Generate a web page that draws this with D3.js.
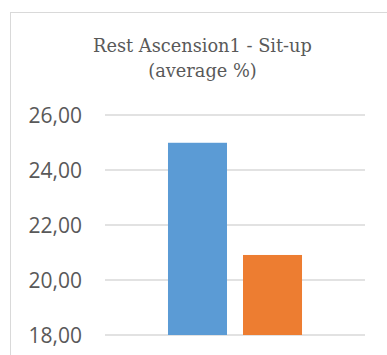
<!DOCTYPE html>
<html>
<head>
<meta charset="utf-8">
<script src="https://cdn.jsdelivr.net/npm/d3@7"></script>
<style>
  html, body { margin: 0; padding: 0; background: #fff; }
  svg { display: block; }
</style>
</head>
<body>
<svg id="chart" width="387" height="355"></svg>
<script>
const titleLines = ["Rest Ascension1 - Sit-up", "(average %)"];
const categories = ["Sit-up"];
const seriesNames = ["Series 1", "Series 2"];
const seriesValues = [24.99, 20.91];
const seriesColors = ["#5B9BD5", "#ED7D31"];
const yTicks = [18, 20, 22, 24, 26];

const svg = d3.select("#chart");

// chart border (extends past the window on the right and bottom)
svg.append("rect")
  .attr("x", 10.5).attr("y", 12.5)
  .attr("width", 500).attr("height", 500)
  .attr("fill", "#fff")
  .attr("stroke", "#D9D9D9").attr("stroke-width", 1);

const plot = { left: 105, right: 365, top: 115, bottom: 335 };

const y = d3.scaleLinear().domain([18, 26]).range([plot.bottom, plot.top]);
const x0 = d3.scaleBand().domain(categories).range([plot.left, plot.right])
  .paddingInner(0).paddingOuter(0.47);
const x1 = d3.scaleBand().domain(seriesNames).range([0, x0.bandwidth()])
  .paddingInner(0.2133).paddingOuter(0);

// gridlines
svg.append("g")
  .selectAll("line").data(yTicks).join("line")
  .attr("x1", plot.left).attr("x2", plot.right)
  .attr("y1", d => y(d)).attr("y2", d => y(d))
  .attr("stroke", "#D9D9D9").attr("stroke-width", 1.5);

// y axis labels
const fmt = d => d3.format(".2f")(d).replace(".", ",");
const yAxis = d3.axisLeft(y).tickValues(yTicks).tickFormat(fmt).tickSize(0).tickPadding(0);
const gAxis = svg.append("g").attr("transform", `translate(82,0)`).call(yAxis);
gAxis.select(".domain").remove();
gAxis.selectAll("text")
  .attr("fill", "#595959")
  .style("font-family", "'Open Sans', 'Noto Sans', sans-serif")
  .style("font-size", "21px")
  .attr("dy", "0.36em");

// bars
const data = seriesNames.map((s, i) => ({ cat: categories[0], s, v: seriesValues[i], c: seriesColors[i] }));
svg.append("g")
  .selectAll("rect").data(data).join("rect")
  .attr("x", d => x0(d.cat) + x1(d.s))
  .attr("width", x1.bandwidth())
  .attr("y", d => y(d.v))
  .attr("height", d => y(18) - y(d.v))
  .attr("fill", d => d.c);

// title
const titles = svg.append("g")
  .selectAll("text").data(titleLines).join("text")
  .attr("x", 202.5)
  .attr("y", (d, i) => 51.7 + i * 25)
  .attr("text-anchor", "middle")
  .attr("fill", "#595959")
  .style("font-family", "'DejaVu Serif', serif")
  .style("font-size", "17px")
  .text(d => d);
const w = titles.node().getComputedTextLength();
const fs = Math.max(14, Math.min(20, 17 * 219 / w));
titles.style("font-size", fs + "px");
</script>
</body>
</html>
